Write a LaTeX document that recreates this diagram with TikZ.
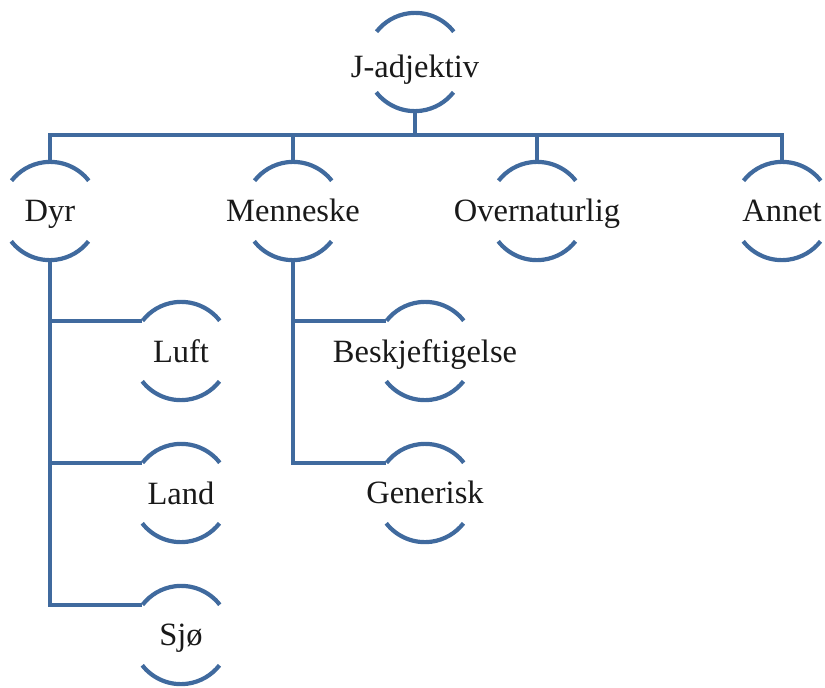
\documentclass[tikz,border=0pt]{standalone}
\usepackage{fontspec}
\setmainfont{Liberation Serif}
\begin{document}
\begin{tikzpicture}[x=1pt,y=-1pt,
  ring/.style={circle,draw=none,minimum size=98pt,inner sep=0pt},
  lbl/.style={text=black!90,font=\fontsize{32.5}{38}\selectfont,inner sep=0pt,anchor=base},
  arcline/.style={draw=lineblue,line width=4.2pt},
  conn/.style={draw=lineblue,line width=4pt}]
\definecolor{lineblue}{RGB}{64,106,158}
\useasboundingbox (0,0) rectangle (825,688);
% circles
\node[ring] (jadj) at (415,62) {};
\node[ring] (dyr) at (50,211) {};
\node[ring] (menn) at (293,211) {};
\node[ring] (over) at (537,211) {};
\node[ring] (annet) at (782,211) {};
\node[ring] (luft) at (181,351) {};
\node[ring] (land) at (181,493) {};
\node[ring] (sjo) at (181,635) {};
\node[ring] (besk) at (425,351) {};
\node[ring] (gen) at (425,493) {};
% labels
\node[lbl] (jadjT) at (415,77) {J-adjektiv};
\node[lbl] (dyrT) at (50,221) {Dyr};
\node[lbl] (mennT) at (293,221) {Menneske};
\node[lbl] (overT) at (537,221) {Overnaturlig};
\node[lbl] (annetT) at (782,221) {Annet};
\node[lbl] (luftT) at (181,362) {Luft};
\node[lbl] (landT) at (181,504) {Land};
\node[lbl] (sjoT) at (181,645) {Sjø};
\node[lbl] (beskT) at (425,362) {Beskjeftigelse};
\node[lbl] (genT) at (425,503) {Generisk};
% arcs
\foreach \n in {jadj,dyr,menn,over,annet,luft,land,sjo,besk,gen}{
  \draw[arcline] (\n.38) arc[start angle=38,end angle=142,radius=49pt];
  \draw[arcline] (\n.218) arc[start angle=218,end angle=322,radius=49pt];
}
% connectors
\coordinate (bus) at (415,135);
\draw[conn] (jadj.270) -- (bus);
\draw[conn] (dyr.90) -- (dyr.90 |- bus) -- (annet.90 |- bus) -- (annet.90);
\draw[conn] (menn.90) -- (menn.90 |- bus);
\draw[conn] (over.90) -- (over.90 |- bus);
\draw[conn] (dyr.270) |- (sjo.142);
\draw[conn] (dyr.270 |- luft.142) -- (luft.142);
\draw[conn] (dyr.270 |- land.142) -- (land.142);
\draw[conn] (menn.270) |- (gen.142);
\draw[conn] (menn.270 |- besk.142) -- (besk.142);
\end{tikzpicture}
\end{document}
